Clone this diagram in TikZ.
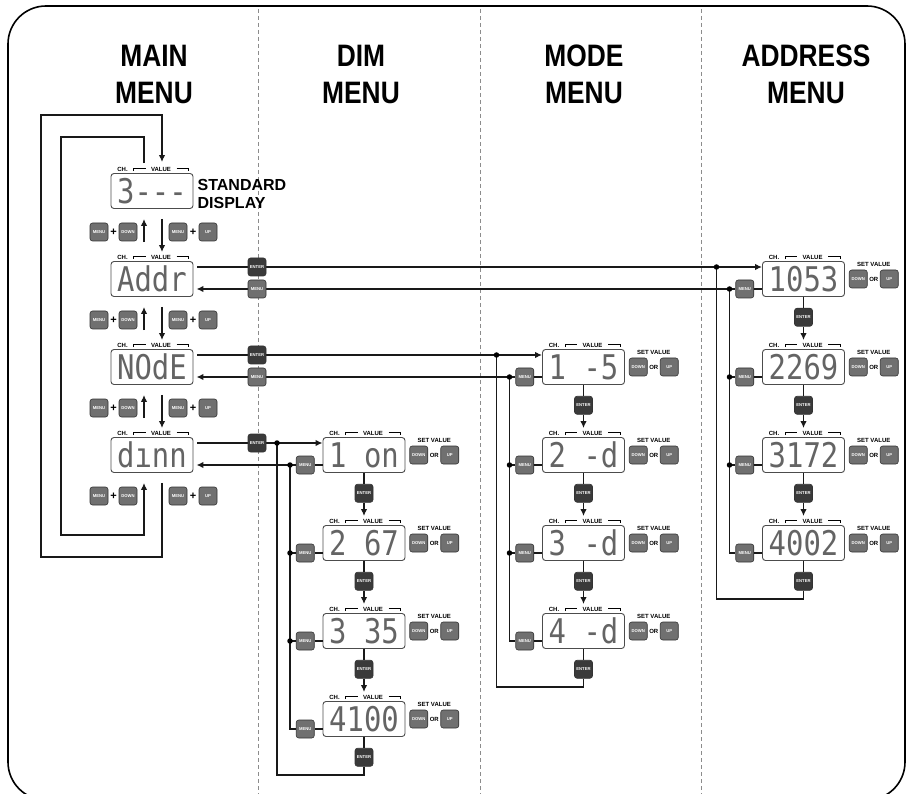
\documentclass[tikz,border=0pt]{standalone}
\usepackage{fontspec}
\setmainfont{Liberation Sans}
\newfontfamily\headfont[FakeStretch=0.85]{Liberation Sans}
\newfontfamily\segfont[FakeStretch=0.85]{DejaVu Sans Mono}
\usetikzlibrary{arrows.meta,positioning,calc}
\definecolor{color_key}{RGB}{112,112,112}
\definecolor{color_enter}{RGB}{58,58,58}
\definecolor{color_seg}{RGB}{100,100,100}

% display with CH./VALUE caption
\newcommand{\lcd}[4]{%
    \node[lcdbox] (#1) at (#2,#3) {#4};
    \node[captxt] (#1-ch) at ([xshift=12pt,yshift=4pt]#1.north west) {CH.};
    \node[captxt] (#1-val) at ([xshift=50.5pt,yshift=4pt]#1.north west) {VALUE};
    \draw[capline] ([xshift=23pt,yshift=2pt]#1.north west) |- ([xshift=35pt,yshift=4.5pt]#1.north west);
    \draw[capline] ([xshift=66pt,yshift=4.5pt]#1.north west) -| ([xshift=78pt,yshift=2pt]#1.north west);
}

% down / or / up keys right of a display
\newcommand{\updown}[1]{%
    \node[key,right=4pt of #1] (#1-dn) {DOWN};
    \node[captxt,right=1.5pt of #1-dn] (#1-or) {OR};
    \node[key,right=1.5pt of #1-or] (#1-up) {UP};
    \node[captxt,above=9.5pt of #1-or] (#1-set) {SET VALUE};
}

% prefix, main display, x, y of first display, four readouts
\newcommand{\submenu}[8]{%
    \lcd{#1-1}{#3}{#4}{#5}
    \lcd{#1-2}{#3}{#4+88}{#6}
    \lcd{#1-3}{#3}{#4+176}{#7}
    \lcd{#1-4}{#3}{#4+264}{#8}
    \foreach \k in {1,...,4}{
        \updown{#1-\k}
        \node[key,left=8pt of #1-\k,yshift=-10pt] (#1-\k-m) {MENU};
        \draw[flow] (#1-\k-m) -- (#1-\k-m -| #1-\k.west);
        \node[enter,below=11pt of #1-\k] (#1-\k-e) {ENTER};
        \draw[flow] (#1-\k) -- (#1-\k-e);
    }
    \foreach \k/\n in {1/2,2/3,3/4}{
        \draw[arr] (#1-\k-e) -- ([yshift=9pt]#1-\n.north);
    }
    \coordinate (#1-ej) at (#3-87,#4-12);
    \coordinate (#1-eb) at (#3-87,#4+320);
    \coordinate (#1-mj) at (#3-74,#4+10);
    \draw[arr,shorten <=4pt] ([yshift=12pt]#2.east) -- ([yshift=12pt]#1-1.west);   % enter
    \draw[arr,shorten >=3pt] (#1-1-m) -- ([yshift=-10pt]#2.east);                 % back with menu
    \draw[flow] (#1-4-e) |- (#1-eb) -- (#1-ej);                                  % enter after last
    \draw[flow] (#1-mj) |- (#1-4-m);                                              % menu bus
    \foreach \k in {2,3}{
        \draw[flow] (#1-mj |- #1-\k-m) -- (#1-\k-m);
    }
    \node[dot] (#1-ejd) at (#1-ej) {};
    \foreach \k in {1,2,3}{
        \node[dot] (#1-mjd\k) at (#1-mj |- #1-\k-m) {};
    }
}

\begin{document}
\begin{tikzpicture}[
    x=1pt,y=-1pt,
    frame/.style={line width=1.6pt,rounded corners=38pt},
    divider/.style={black!45,line width=0.9pt,dash pattern=on 4pt off 3pt},
    head/.style={font=\headfont\bfseries\fontsize{31}{37}\selectfont,align=center,inner sep=0},
    stdtxt/.style={font=\bfseries\fontsize{16}{18}\selectfont,align=left,inner sep=0,anchor=west},
    lcdbox/.style={draw=black!70,line width=0.9pt,rounded corners=3pt,minimum width=82pt,minimum height=35pt,
        inner sep=0,text=color_seg,font=\segfont\fontsize{34}{34}\selectfont},
    captxt/.style={font=\bfseries\fontsize{6}{6}\selectfont,inner sep=0},
    capline/.style={line width=0.6pt},
    key/.style={fill=color_key,draw=black!80,line width=0.6pt,rounded corners=2.5pt,minimum size=18pt,inner sep=0,
        text=white,font=\bfseries\fontsize{4.2}{4.2}\selectfont},
    enter/.style={key,fill=color_enter},
    plus/.style={font=\bfseries\fontsize{11}{11}\selectfont,inner sep=0},
    flow/.style={line width=1.3pt,black!90},
    arr/.style={flow,-{Latex[length=7pt,width=6.5pt]}},
    dot/.style={circle,fill=black,inner sep=0,minimum size=5.5pt}
]
    \useasboundingbox (0,0) rectangle (908,794);

    \draw[frame] (8,6) rectangle (905,800);
    \foreach \x in {258,480,701}{
        \draw[divider] (\x,9) -- (\x,800);
    }

    % column titles
    \node[head] (h-main) at (154,74.5) {MAIN\\MENU};
    \node[head] (h-dim)  at (361,74.5) {DIM\\MENU};
    \node[head] (h-mode) at (584,74.5) {MODE\\MENU};
    \node[head] (h-addr) at (806,74.5) {ADDRESS\\MENU};

    % main menu
    \lcd{std}{152}{191}{3---}
    \lcd{addr}{152}{279}{Addr}
    \lcd{mode}{152}{367}{NOdE}
    \lcd{dimm}{152}{455}{dınn}
    \node[stdtxt,right=4pt of std,yshift=-3pt] (std-lbl) {STANDARD\\DISPLAY};

    \foreach \i/\y in {1/232,2/320,3/408,4/496}{
        \node[key]  (lm\i) at (99,\y)    {MENU};
        \node[plus] (lp\i) at (113.5,\y) {+};
        \node[key]  (ld\i) at (128,\y)   {DOWN};
        \node[key]  (rm\i) at (178,\y)   {MENU};
        \node[plus] (rp\i) at (193,\y)   {+};
        \node[key]  (ru\i) at (208,\y)   {UP};
    }
    \foreach \a/\b in {std/addr,addr/mode,mode/dimm}{
        \draw[arr] ([xshift=-8pt,yshift=19pt]\b.north) -- ([xshift=-8pt,yshift=-10pt]\a.south);
        \draw[arr] ([xshift=10pt,yshift=-10pt]\a.south) -- ([xshift=10pt,yshift=9pt]\b.north);
    }

    % wrap round loops
    \coordinate (outer-tl) at (41,115);
    \coordinate (outer-bl) at (41,557);
    \coordinate (inner-tl) at (61,137);
    \coordinate (inner-bl) at (61,535);
    \draw[arr] ([xshift=10pt,yshift=-10pt]dimm.south) |- (outer-bl) -- (outer-tl) -| ([xshift=10pt,yshift=11pt]std.north);
    \draw[arr] ([xshift=-8pt,yshift=10pt]std.north) |- (inner-tl) -- (inner-bl) -| ([xshift=-8pt,yshift=-10pt]dimm.south);

    % sub menus
    \submenu{dim}{dimm}{364}{455}{1 on}{2 67}{3 35}{4100}
    \submenu{md}{mode}{583.5}{367}{1 -5}{2 -d}{3 -d}{4 -d}
    \submenu{ad}{addr}{803.5}{279}{1053}{2269}{3172}{4002}

    % keys on the first divider
    \node[enter] (addr-de) at (257,267) {ENTER};
    \node[key]   (addr-dm) at (257,289) {MENU};
    \node[enter] (mode-de) at (257,355) {ENTER};
    \node[key]   (mode-dm) at (257,377) {MENU};
    \node[enter] (dimm-de) at (257,443) {ENTER};

\end{tikzpicture}
\end{document}
